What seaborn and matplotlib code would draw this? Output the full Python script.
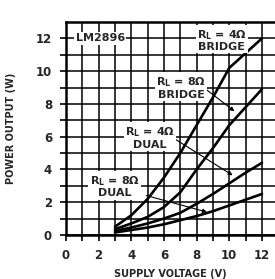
import numpy as np
import pandas as pd
import matplotlib
matplotlib.use("Agg")
import matplotlib.pyplot as plt
import seaborn as sns

# supply voltage (V) where curves were read
volts = [3, 4, 5, 6, 7, 8, 9, 10, 11, 12]
# power output (W)
p_4ohm_bridge = [0.5, 1.2, 2.2, 3.5, 5.0, 6.7, 8.4, 10.2, 11.1, 12.0]
p_8ohm_bridge = [0.35, 0.7, 1.1, 1.7, 2.6, 4.0, 5.3, 6.7, 7.8, 8.9]
p_4ohm_dual = [0.25, 0.45, 0.7, 1.0, 1.35, 1.9, 2.5, 3.15, 3.8, 4.4]
p_8ohm_dual = [0.15, 0.3, 0.45, 0.65, 0.9, 1.15, 1.45, 1.8, 2.15, 2.5]

x_ticks = list(range(0, 13))
x_ticklabels = [str(v) if v % 2 == 0 else "" for v in x_ticks]
y_ticks = list(range(0, 13))
y_ticklabels = [str(v) if v % 2 == 0 else "" for v in y_ticks]

df = pd.DataFrame({
    "V": volts * 4,
    "P": p_4ohm_bridge + p_8ohm_bridge + p_4ohm_dual + p_8ohm_dual,
    "curve": ["4b"] * 10 + ["8b"] * 10 + ["4d"] * 10 + ["8d"] * 10,
})

sns.set_style("white")
plt.rcParams["font.family"] = ["Liberation Sans Narrow", "DejaVu Sans"]
plt.rcParams["font.weight"] = "bold"
plt.rcParams["mathtext.fontset"] = "custom"
plt.rcParams["mathtext.rm"] = "Liberation Sans Narrow:bold"

fig = plt.figure(figsize=(2.75, 2.79), dpi=100)
ax = fig.add_axes([0.24, 0.158, 0.76, 0.763])

sns.lineplot(data=df, x="V", y="P", hue="curve", palette=["black"] * 4,
             linewidth=1.9, legend=False, ax=ax, zorder=3)

ax.set_xlim(0, 12.8)
ax.set_ylim(0, 13)
ax.set_xticks(x_ticks)
ax.set_xticklabels(x_ticklabels)
ax.set_yticks(y_ticks)
ax.set_yticklabels(y_ticklabels)
ax.grid(True, color="black", linewidth=1.1)
ax.tick_params(axis="both", direction="out", length=4, width=1.2, color="black",
               labelsize=8.5, pad=6, left=True, bottom=True)
for lab in ax.get_xticklabels() + ax.get_yticklabels():
    lab.set_fontweight("bold")
for side in ["left", "bottom", "top"]:
    ax.spines[side].set_linewidth(1.8)
    ax.spines[side].set_color("black")
ax.spines["right"].set_visible(False)

ax.set_xlabel("SUPPLY VOLTAGE (V)", fontsize=7, fontweight="bold", labelpad=5)
ax.set_ylabel("POWER OUTPUT (W)", fontsize=7, fontweight="bold", labelpad=14)

box = dict(facecolor="white", edgecolor="none", pad=1)
txt = dict(fontsize=8, fontweight="bold", ha="center", va="center",
           bbox=box, zorder=5, linespacing=1.05)
ax.text(2.1, 12.0, "LM2896", **txt)
ax.text(9.55, 11.9, "R$_\\mathregular{L}$ = 4Ω\nBRIDGE", **txt)
ax.text(7.05, 9.0, "R$_\\mathregular{L}$ = 8Ω\nBRIDGE", **txt)
ax.text(5.15, 5.95, "R$_\\mathregular{L}$ = 4Ω\nDUAL", **txt)
ax.text(2.97, 2.97, "R$_\\mathregular{L}$ = 8Ω\nDUAL", **txt)

arrow = dict(arrowstyle="-|>", color="black", lw=0.8, mutation_scale=6)
ax.annotate("", xy=(10.45, 7.45), xytext=(8.5, 8.95), arrowprops=arrow, zorder=4)
ax.annotate("", xy=(10.35, 3.55), xytext=(6.6, 5.9), arrowprops=arrow, zorder=4)
ax.annotate("", xy=(8.8, 1.35), xytext=(4.75, 2.45), arrowprops=arrow, zorder=4)

fig.savefig("out.png", dpi=100)
